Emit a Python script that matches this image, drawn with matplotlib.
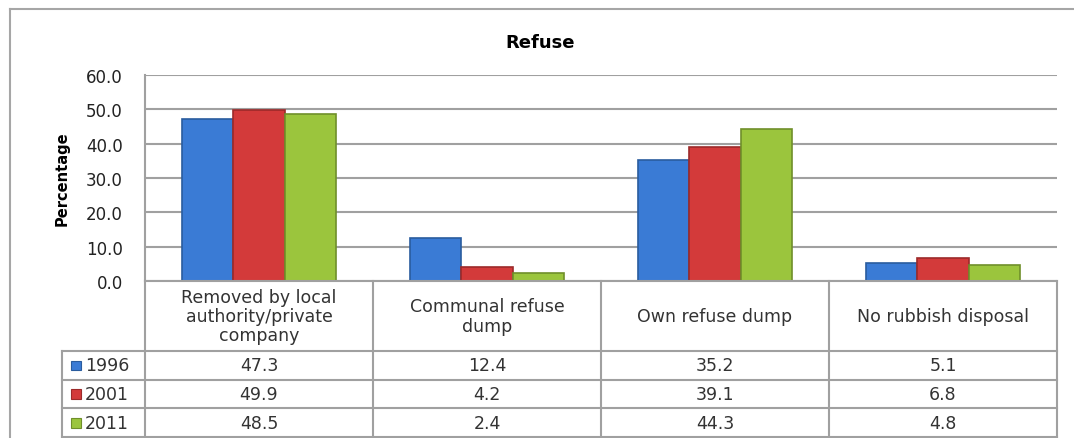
import matplotlib.pyplot as plt
import matplotlib.patches as mpatches
from matplotlib.lines import Line2D
import numpy as np

plt.rcParams['font.family'] = ['DejaVu Sans']

# データ
categories = ["Removed by local\nauthority/private\ncompany", "Communal refuse\ndump",
              "Own refuse dump", "No rubbish disposal"]
years = ["1996", "2001", "2011"]
v1996 = [47.3, 12.4, 35.2, 5.1]
v2001 = [49.9, 4.2, 39.1, 6.8]
v2011 = [48.5, 2.4, 44.3, 4.8]
series = [v1996, v2001, v2011]
colors = ["#3A7BD5", "#D33A3A", "#9BC53D"]
edges = ["#2A5C9E", "#9C2A2A", "#6F8F2A"]

W, H = 1074, 439
fig = plt.figure(figsize=(W / 100, H / 100), dpi=100)

def fx(px):
    return px / W

def fy(py):
    return 1 - py / H

# 外枠
fig.add_artist(Line2D([fx(10), 1], [fy(10), fy(10)], color="#A6A6A6", lw=1.5))
fig.add_artist(Line2D([fx(10), fx(10)], [fy(10), 0], color="#A6A6A6", lw=1.5))

# グラフ本体
left, right, top, bottom = 145, 1057, 76, 282
ax = fig.add_axes([fx(left), fy(bottom), fx(right - left), (bottom - top) / H])
x = np.arange(len(categories))
bw = 0.224
for i, vals in enumerate(series):
    ax.bar(x + (i - 1) * bw, vals, bw, color=colors[i], edgecolor=edges[i], lw=1.2, zorder=3)
ax.set_xlim(-0.5, len(categories) - 0.5)
ax.set_ylim(0, 60)
ax.set_yticks(np.arange(0, 61, 10))
ax.set_yticklabels([f"{t:.1f}" for t in np.arange(0, 61, 10)], fontsize=12, color="#222222")
ax.tick_params(axis="y", length=0, pad=16)
ax.set_xticks([])
ax.yaxis.grid(True, color="#A0A0A0", lw=1.5)
for s in ["top", "right", "bottom"]:
    ax.spines[s].set_visible(False)
ax.spines["left"].set_color("#A0A0A0")
ax.spines["left"].set_linewidth(1.5)
ax.set_ylabel("Percentage", fontsize=10.5, fontweight="bold",
              family=["Liberation Sans Narrow", "DejaVu Sans"], labelpad=12)

fig.text(fx(540), fy(43), "Refuse", ha="center", va="center", fontsize=13, fontweight="bold")

# データテーブル
tb_bottom = 438
tax = fig.add_axes([fx(left), fy(tb_bottom), fx(right - left), (tb_bottom - bottom) / H])
tax.set_xlim(-0.5, len(categories) - 0.5)
head = 2.45
n = len(years)
tax.set_ylim(n + head, 0)
tax.axis("off")
lc = "#A0A0A0"
leg_w = 83 / 228  # 凡例列の幅（カテゴリ幅比）
# 縦線
for k in range(len(categories) + 1):
    tax.plot([k - 0.5, k - 0.5], [0, n + head], color=lc, lw=1.5, clip_on=False)
tax.plot([-0.5 - leg_w] * 2, [head, n + head], color=lc, lw=1.5, clip_on=False)
# 横線
tax.plot([-0.5, len(categories) - 0.5], [0, 0], color=lc, lw=1.5, clip_on=False)
for r in range(n + 1):
    tax.plot([-0.5 - leg_w, len(categories) - 0.5], [head + r, head + r], color=lc, lw=1.5, clip_on=False)
# 見出し
for k, c in enumerate(categories):
    tax.text(k, head / 2, c, ha="center", va="center", fontsize=12.5, linespacing=1.1,
             color="#333333")
# 値
for r, vals in enumerate(series):
    for k, v in enumerate(vals):
        tax.text(k, head + r + 0.5, f"{v:.1f}", ha="center", va="center", fontsize=12.5,
                 color="#333333")
    tax.add_patch(mpatches.Rectangle((-0.5 - leg_w + 0.04, head + r + 0.33), 0.045, 0.34,
                                     facecolor=colors[r], edgecolor=edges[r], lw=0.8, clip_on=False))
    tax.text(-0.5 - leg_w + 0.1, head + r + 0.5, years[r], ha="left", va="center", fontsize=12.5,
             color="#333333")

fig.savefig("out.png", dpi=100)
